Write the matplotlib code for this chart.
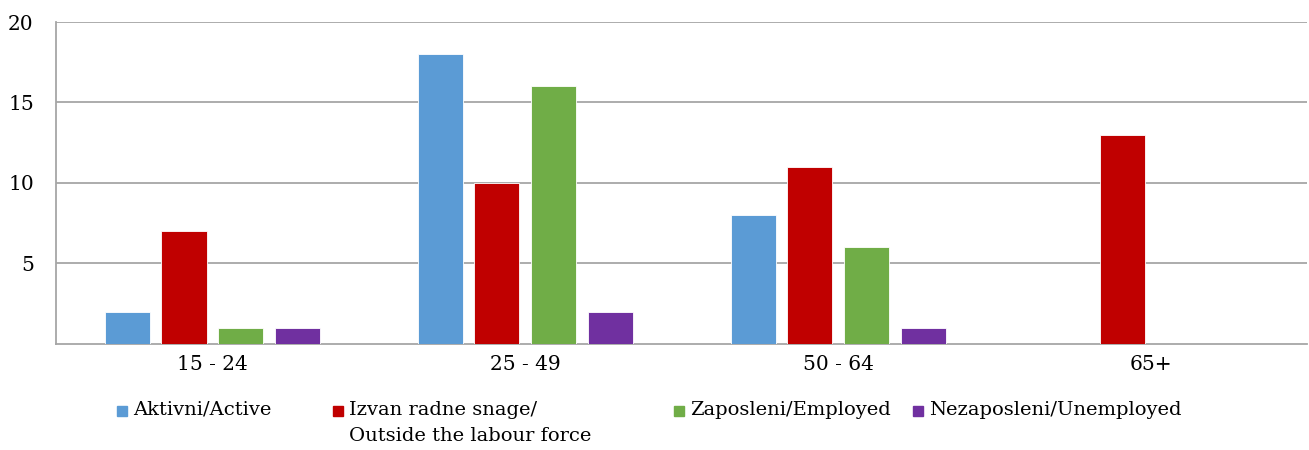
import matplotlib
matplotlib.use('Agg')
import matplotlib.pyplot as plt
from matplotlib.patches import Rectangle
import numpy as np

plt.rcParams['font.family'] = ['DejaVu Serif']

age_groups = ['15 - 24', '25 - 49', '50 - 64', '65+']
series_names = ['Aktivni/Active',
                'Izvan radne snage/\nOutside the labour force',
                'Zaposleni/Employed',
                'Nezaposleni/Unemployed']
active = [2, 18, 8, 0]
outside = [7, 10, 11, 13]
employed = [1, 16, 6, 0]
unemployed = [1, 2, 1, 0]
colors = ['#5B9BD5', '#C00000', '#70AD47', '#7030A0']

grid_color = '#A6A6A6'

fig = plt.figure(figsize=(13.09, 4.5), dpi=100)
ax = fig.add_axes([0.0428, 0.2356, 0.956, 0.7155])

x = np.arange(len(age_groups))
offsets = [-0.272, -0.091, 0.091, 0.272]
width = 0.144
for vals, off, c in zip([active, outside, employed, unemployed], offsets, colors):
    ax.bar(x + off, vals, width, color=c, edgecolor='white', linewidth=0.6, zorder=3)

ax.set_xlim(-0.5, 3.5)
ax.set_ylim(0, 20)
ax.set_yticks([5, 10, 15, 20])
ax.set_xticks(x)
ax.set_xticklabels(age_groups)
ax.tick_params(axis='both', length=0, labelsize=14.5)
ax.tick_params(axis='y', pad=16)
ax.tick_params(axis='x', pad=8)
ax.grid(axis='y', color=grid_color, linewidth=1.3, zorder=0)
for s in ['top', 'right']:
    ax.spines[s].set_visible(False)
for s in ['left', 'bottom']:
    ax.spines[s].set_color(grid_color)
    ax.spines[s].set_linewidth(1.3)

# legend below the plot
leg_x = [117, 333, 674, 913]
for px, name, c in zip(leg_x, series_names, colors):
    fig.add_artist(Rectangle((px / 1309, 1 - 416 / 450), 10 / 1309, 10 / 450,
                             transform=fig.transFigure, color=c))
    fig.text((px + 16) / 1309, 1 - 401 / 450, name, fontsize=14,
             va='top', ha='left', linespacing=1.6)

fig.savefig('out.png', dpi=100)
